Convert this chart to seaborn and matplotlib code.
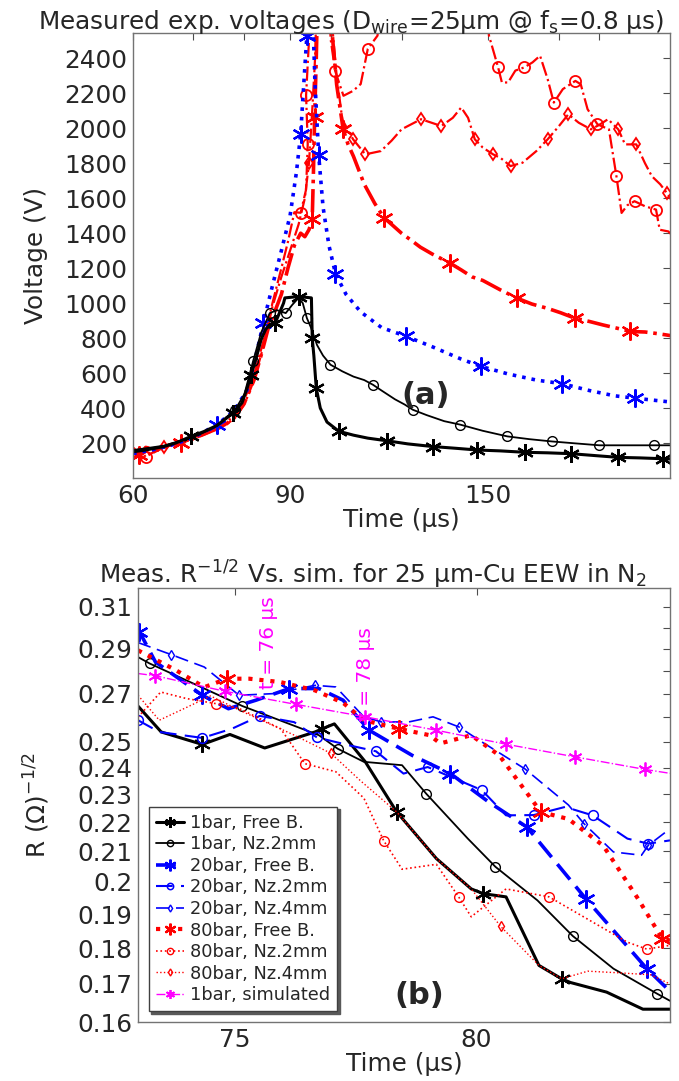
import numpy as np
import pandas as pd
import matplotlib
matplotlib.use("Agg")
import matplotlib.pyplot as plt
import seaborn as sns
from matplotlib.ticker import NullFormatter

# ---------------- data : panel (a) ----------------
a_t_1free = [60, 62, 65, 67, 69.7, 72, 74.5, 77.7, 79.5, 80.5, 81.4, 82.5, 83.5, 84.5, 85.5, 86.6, 87.5, 88.5, 88.8,
             92, 95.1, 95.3, 95.7, 96.3, 97.3, 99, 102.1, 106, 110, 115.5, 122, 130, 138, 146, 155, 165, 175, 186,
             198, 210, 222, 236, 242]
a_v_1free = [150, 160, 180, 200, 238, 265, 300, 371, 430, 510, 590, 690, 790, 850, 880, 886, 940, 1000, 1030,
             1038, 1030, 800, 700, 514, 400, 320, 267, 245, 228, 213, 195, 180, 170, 160, 155, 147, 144, 139,
             128, 118, 115, 110, 108]
a_m_1free = [4, 7, 10, 15, 19, 21, 23, 26, 29, 31, 33, 35, 37, 39, 41]

a_t_1nz2 = [60, 62, 65, 68, 71, 74, 78.1, 80, 81.8, 83.5, 85.4, 87, 89, 90.5, 92, 93, 94, 95, 96.5, 98, 99.9,
            103, 106, 109, 111.5, 114, 118, 121, 123.6, 128, 134, 139.7, 148, 157.7, 167, 177, 188, 200, 215,
            230, 242]
a_v_1nz2 = [160, 170, 185, 215, 245, 290, 390, 480, 667, 830, 943, 960, 943, 990, 1030, 1000, 914, 860, 760,
            700, 648, 610, 580, 560, 533, 500, 450, 420, 390, 360, 325, 305, 270, 238, 222, 209, 198, 187, 187,
            187, 187]
a_m_1nz2 = [6, 8, 10, 12, 16, 20, 24, 28, 31, 33, 35, 37, 39]

a_t_20free = [60, 63, 66, 70, 74.6, 78, 80.5, 82, 84, 86, 88, 90, 91.5, 92.5, 93.5, 94.0, 94.4, 95.2, 96,
              96.9, 98, 99.5, 101.2, 104, 108, 114, 121.5, 130, 140, 147.4, 158, 170, 181.8, 195, 208, 219,
              230, 242]
a_v_20free = [140, 160, 185, 230, 305, 390, 500, 650, 886, 1100, 1300, 1500, 1750, 1968, 2350, 2530, 2800,
              2800, 2250, 1847, 1550, 1330, 1168, 1050, 950, 860, 810, 750, 680, 638, 595, 560, 539, 500, 470,
              457, 445, 433]
a_m_20free = [4, 8, 13, 15, 19, 22, 26, 29, 32, 35]

a_t_80free = [60, 61, 62, 64, 66, 68, 70, 72, 74, 76, 78, 80, 82, 83.5, 85, 86.5, 88, 89.5, 91, 92.5, 93.5,
              94.5, 95.3, 95.6, 95.9, 96.3, 96.7, 99.5, 100.5, 101.5, 103.2, 104.5, 106, 109, 112, 114.7, 117,
              120, 123, 126, 130, 136, 140, 144, 148, 155, 161.8, 168, 175, 181, 187.7, 195, 202, 210, 216.5,
              225, 233, 242]
a_v_80free = [170, 130, 175, 160, 190, 200, 225, 250, 275, 300, 350, 430, 560, 700, 850, 950, 1050, 1200,
              1330, 1400, 1380, 1420, 1479, 1750, 2064, 2400, 2800, 2800, 2500, 2250, 1997, 1910, 1840, 1680,
              1570, 1488, 1450, 1400, 1360, 1320, 1280, 1229, 1190, 1150, 1130, 1075, 1028, 995, 970, 945, 914,
              895, 875, 855, 838, 835, 825, 812]
a_m_80free = [1, 5, 22, 24, 30, 35, 41, 46, 50, 54]

a_t_80nz2 = [60, 61, 62, 64, 66, 68, 70, 72, 74, 76, 78, 80, 82, 84, 86, 88, 89.5, 91, 92.5, 93.8, 94.2,
             93.8, 94.5, 95, 99, 100, 101.1, 103.3, 105.9, 108, 110, 112.8, 114, 149, 150.4, 154, 155.5, 158,
             161, 164.7, 168.3, 171.6, 175, 177.8, 182, 188, 190.6, 194, 199, 205, 209, 211.8, 215, 219, 225,
             231.5, 233.7, 239, 242]
a_v_80nz2 = [130, 170, 120, 165, 185, 210, 230, 250, 280, 310, 360, 450, 590, 780, 1000, 1200, 1350, 1520,
             1517, 1650, 1911, 2189, 2500, 2800, 2800, 2500, 2329, 2186, 2214, 2253, 2454, 2530, 2800, 2800,
             2530, 2348, 2262, 2262, 2330, 2348, 2377, 2415, 2281, 2147, 2224, 2271, 2252, 2109, 2023, 1994,
             1726, 1516, 1560, 1583, 1554, 1535, 1420, 1410, 1382]
a_m_80nz2 = [2, 18, 20, 21, 26, 30, 35, 39, 43, 45, 48, 50, 53, 55]

a_t_80nz4 = [60, 61, 63, 65, 67, 70, 73, 76, 78, 80, 82, 84, 86, 88, 90, 92, 93.5, 94.5, 95.3, 96, 96.5, 99.5,
             101.5, 103, 105.9, 109.3, 113.8, 117, 120, 126.2, 130, 133, 137, 140, 142.5, 145, 148, 152, 155,
             159, 164, 170, 175, 180, 184.6, 189.6, 195.7, 200, 204.5, 210, 213.7, 220, 225, 229, 234, 238, 242]
a_v_80nz4 = [110, 150, 140, 175, 195, 220, 260, 300, 340, 420, 560, 750, 980, 1150, 1300, 1450, 1600, 1800,
             2100, 2400, 2800, 2800, 2300, 2050, 1937, 1851, 1870, 1930, 1994, 2052, 2030, 2013, 2060, 2119,
             2060, 1937, 1890, 1851, 1830, 1784, 1803, 1870, 1937, 2010, 2080, 2032, 1994, 2020, 2052, 1994,
             1908, 1908, 1800, 1726, 1680, 1631, 1573]
a_m_80nz4 = [3, 17, 24, 25, 29, 31, 35, 37, 39, 42, 44, 46, 49, 51, 55]

a_yticks = [200, 400, 600, 800, 1000, 1200, 1400, 1600, 1800, 2000, 2200, 2400]
a_xticks = [60, 90, 150]
a_xminor = [70, 80, 100, 120, 180, 200]

# ---------------- data : panel (b) ----------------
b_t_1free = [73.0, 73.48, 74.33, 74.9, 75.62, 76.66, 76.81, 77.06, 77.7, 78.35, 79.17, 79.89, 80.14, 80.61,
             81.29, 81.76, 81.94, 82.69, 83.44, 84.0]
b_v_1free = [0.2647, 0.254, 0.249, 0.253, 0.2476, 0.254, 0.2553, 0.2573, 0.2422, 0.2236, 0.2076, 0.1978,
             0.1963, 0.1953, 0.1751, 0.1714, 0.1704, 0.1678, 0.1633, 0.1633]
b_m_1free = [2, 6, 9, 12, 15]

b_t_1nz2 = [73.0, 73.24, 75.16, 76.74, 77.13, 77.67, 78.46, 78.96, 79.82, 80.39, 81.26, 81.99, 82.83, 83.73, 84.0]
b_v_1nz2 = [0.2862, 0.2833, 0.2647, 0.2527, 0.2473, 0.2422, 0.2409, 0.2302, 0.2143, 0.2049, 0.1942, 0.1835,
            0.1742, 0.1674, 0.1655]
b_m_1nz2 = [1, 2, 4, 7, 9, 11, 13]

b_t_20free = [73.0, 73.03, 73.36, 74.33, 74.87, 75.44, 76.13, 76.74, 77.24, 77.78, 78.67, 79.46, 80.25, 81.04,
              82.26, 83.52, 84.0]
b_v_20free = [0.3003, 0.298, 0.2840, 0.2693, 0.2636, 0.2672, 0.2722, 0.2722, 0.2672, 0.2547, 0.2447, 0.2377,
              0.2272, 0.2183, 0.1947, 0.1742, 0.1680]
b_m_20free = [1, 3, 6, 9, 11, 13, 14, 15]

b_t_20nz2 = [73.0, 73.44, 74.33, 74.94, 75.52, 76.23, 76.70, 77.38, 77.92, 78.49, 78.99, 80.11, 80.61, 81.18,
             81.83, 82.4, 83.12, 83.55, 84.0]
b_v_20nz2 = [0.2588, 0.254, 0.2516, 0.2553, 0.2606, 0.2580, 0.2518, 0.2486, 0.2463, 0.2377, 0.2402, 0.2315,
             0.2224, 0.2225, 0.2254, 0.2224, 0.2143, 0.2126, 0.2137]
b_m_20nz2 = [0, 2, 4, 6, 8, 10, 11, 13, 15, 17]

b_t_20nz4 = [73.0, 73.69, 74.37, 75.09, 75.8, 76.66, 77.09, 77.67, 78.03, 78.6, 79.1, 79.64, 80.11, 81.0, 81.9,
             82.22, 82.83, 83.41, 83.55, 84.0]
b_v_20nz4 = [0.2929, 0.2873, 0.2817, 0.2693, 0.2700, 0.2736, 0.2729, 0.2602, 0.2581, 0.2581, 0.2602, 0.2560,
             0.2500, 0.2395, 0.2261, 0.2195, 0.2098, 0.2087, 0.2120, 0.2177]
b_m_20nz4 = [1, 3, 5, 8, 11, 13, 15, 18]

b_t_80free = [73.0, 73.79, 74.37, 74.84, 75.3, 75.95, 76.66, 77.24, 77.67, 78.39, 79.03, 79.25, 79.89, 80.47,
              81.33, 81.9, 82.62, 83.34, 83.84, 84.0]
b_v_80free = [0.2893, 0.2802, 0.2728, 0.2765, 0.2765, 0.2750, 0.2714, 0.2661, 0.2588, 0.2553, 0.2527, 0.2494,
              0.2527, 0.2447, 0.2236, 0.2211, 0.2119, 0.1947, 0.1827, 0.1822]
b_m_80free = [3, 9, 14, 18]

b_t_80nz2 = [73.0, 73.47, 74.0, 74.62, 75.09, 75.95, 76.45, 77.09, 77.67, 78.08, 78.46, 79.17, 79.63, 79.89,
             80.61, 81.5, 82.26, 83.12, 83.52, 84.0]
b_v_80nz2 = [0.2601, 0.2707, 0.2679, 0.2657, 0.2637, 0.2553, 0.2415, 0.2384, 0.2286, 0.2136, 0.2041, 0.2057,
             0.1953, 0.1892, 0.1978, 0.1953, 0.1888, 0.1817, 0.1797, 0.1808]
b_m_80nz2 = [3, 6, 9, 12, 15, 18]

b_t_80nz4 = [73.0, 73.44, 74.0, 74.5, 75.2, 76.2, 76.99, 77.6, 78.35, 79.17, 79.89, 80.5, 81.29, 81.76, 82.3,
             83.0, 83.6, 84.0]
b_v_80nz4 = [0.2693, 0.2588, 0.2641, 0.2690, 0.2620, 0.2530, 0.2455, 0.2350, 0.2236, 0.2076, 0.1978, 0.1863,
             0.1751, 0.1714, 0.1735, 0.1730, 0.1725, 0.1700]
b_m_80nz4 = [6, 11]

b_t_sim = [73.0, 73.36, 74.8, 76.27, 77.7, 79.17, 80.61, 82.04, 83.48, 84.0]
b_v_sim = [0.2788, 0.2778, 0.2710, 0.2654, 0.2602, 0.2547, 0.2491, 0.2441, 0.2393, 0.2378]
b_m_sim = [1, 2, 3, 4, 5, 6, 7, 8]

b_yticks = [0.16, 0.17, 0.18, 0.19, 0.20, 0.21, 0.22, 0.23, 0.24, 0.25, 0.27, 0.29, 0.31]
b_ytick_labels = ["0.16", "0.17", "0.18", "0.19", "0.2", "0.21", "0.22", "0.23", "0.24", "0.25", "0.27",
                  "0.29", "0.31"]
b_yminor = [0.26, 0.28, 0.30]
b_xticks = [75, 80]

b_labels = ["1bar, Free B.", "1bar, Nz.2mm", "20bar, Free B.", "20bar, Nz.2mm", "20bar, Nz.4mm",
            "80bar, Free B.", "80bar, Nz.2mm", "80bar, Nz.4mm", "1bar, simulated"]

# ---------------- style ----------------
sns.set_style("white")
plt.rcParams['font.family'] = ['DejaVu Sans']
plt.rcParams['mathtext.fontset'] = 'dejavusans'

FS = 17.8
AST = (6, 2, 0)
BLUE = "#0000ff"
RED = "#ff0000"
MAG = "#ff00ff"

fig = plt.figure(figsize=(6.79, 10.81), dpi=100)
axA = fig.add_axes([133 / 679, 1 - 478 / 1081, (670 - 133) / 679, (478 - 33) / 1081])
axB = fig.add_axes([138 / 679, 1 - 1022 / 1081, (670 - 138) / 679, (1022 - 588) / 1081])


def draw(ax, t, v, color, ls, lw, marker, ms, mev, mew=1.3, label=None):
    df = pd.DataFrame({"t": t, "v": v})
    sns.lineplot(data=df, x="t", y="v", ax=ax, estimator=None, sort=False, color=color,
                 linestyle=ls, linewidth=lw, marker=marker, markersize=ms, markevery=mev,
                 markerfacecolor="none", markeredgecolor=color, markeredgewidth=mew,
                 label=label, legend=False)


# panel (a)
draw(axA, a_t_80nz2, a_v_80nz2, RED, "-.", 1.6, "o", 8, a_m_80nz2)
draw(axA, a_t_80nz4, a_v_80nz4, RED, "-.", 1.6, "d", 6, a_m_80nz4)
draw(axA, a_t_80free, a_v_80free, RED, "-.", 2.6, AST, 13, a_m_80free, mew=1.6)
draw(axA, a_t_20free, a_v_20free, BLUE, ":", 2.6, AST, 13, a_m_20free, mew=1.6)
draw(axA, a_t_1nz2, a_v_1nz2, "black", "-", 1.3, "o", 7, a_m_1nz2, mew=1.0)
draw(axA, a_t_1free, a_v_1free, "black", "-", 2.2, AST, 12, a_m_1free, mew=1.6)

axA.set_xscale("log")
axA.set_xlim(60, 240)
axA.set_ylim(0, 2545)
axA.set_xticks(a_xticks)
axA.set_xticklabels([str(v) for v in a_xticks])
axA.set_xticks(a_xminor, minor=True)
axA.xaxis.set_minor_formatter(NullFormatter())
axA.set_yticks(a_yticks)
axA.set_yticklabels([str(v) for v in a_yticks])
axA.set_xlabel("Time (µs)", fontsize=FS, labelpad=0)
axA.set_ylabel("Voltage (V)", fontsize=FS, labelpad=12)
axA.set_title(r"Measured exp. voltages (D$_{\mathrm{wire}}$=25µm @ f$_{\mathrm{s}}$=0.8 µs)",
              fontsize=FS, x=0.406, pad=3)
axA.text(127.8, 474, "(a)", fontsize=22, fontweight="bold", ha="center", va="center")

# panel (b)
draw(axB, b_t_1free, b_v_1free, "black", "-", 2.2, AST, 12, b_m_1free, mew=1.5, label=b_labels[0])
draw(axB, b_t_1nz2, b_v_1nz2, "black", "-", 1.3, "o", 7, b_m_1nz2, mew=1.0, label=b_labels[1])
draw(axB, b_t_20free, b_v_20free, BLUE, (0, (5.5, 2.5)), 2.6, AST, 13, b_m_20free, mew=1.6, label=b_labels[2])
draw(axB, b_t_20nz2, b_v_20nz2, BLUE, (0, (8, 4)), 1.5, "o", 7, b_m_20nz2, mew=1.1, label=b_labels[3])
draw(axB, b_t_20nz4, b_v_20nz4, BLUE, (0, (8, 4)), 1.2, "d", 5.5, b_m_20nz4, mew=1.0, label=b_labels[4])
draw(axB, b_t_80free, b_v_80free, RED, ":", 3.0, AST, 13, b_m_80free, mew=1.6, label=b_labels[5])
draw(axB, b_t_80nz2, b_v_80nz2, RED, ":", 1.2, "o", 7, b_m_80nz2, mew=1.0, label=b_labels[6])
draw(axB, b_t_80nz4, b_v_80nz4, RED, ":", 1.0, "d", 5.5, b_m_80nz4, mew=1.0, label=b_labels[7])
draw(axB, b_t_sim, b_v_sim, MAG, "-.", 1.0, AST, 10, b_m_sim, mew=1.3, label=b_labels[8])

axB.set_yscale("log")
axB.set_xlim(73, 84)
axB.set_ylim(0.16, 0.3195)
axB.set_yticks(b_yticks)
axB.set_yticklabels(b_ytick_labels)
axB.set_yticks(b_yminor, minor=True)
axB.yaxis.set_minor_formatter(NullFormatter())
axB.set_xticks(b_xticks)
axB.set_xticklabels([str(v) for v in b_xticks])
axB.set_xlabel("Time (µs)", fontsize=FS, labelpad=0)
axB.set_ylabel(r"R ($\Omega$)$^{\mathrm{-1/2}}$", fontsize=FS, labelpad=18)
axB.set_title(r"Meas. R$^{\mathrm{-1/2}}$ Vs. sim. for 25 µm-Cu EEW in N$_{\mathrm{2}}$",
              fontsize=FS, x=0.442, pad=3)
axB.text(75.7, 0.272, "t = 76 µs", color=MAG, fontsize=14.5, rotation=90, ha="center", va="bottom")
axB.text(77.7, 0.259, "t = 78 µs", color=MAG, fontsize=14.5, rotation=90, ha="center", va="bottom")
axB.text(78.82, 0.167, "(b)", fontsize=22, fontweight="bold", ha="center", va="center")

handles = [l for l in axB.get_lines() if l.get_label() in b_labels]
leg = axB.legend(handles=handles, labels=b_labels, loc="lower left", fontsize=12.8, frameon=True,
                 fancybox=False, shadow={"color": "0.35", "alpha": 1.0}, edgecolor="0.25",
                 borderaxespad=0.6, handlelength=1.6, handletextpad=0.3, labelspacing=0.2,
                 borderpad=0.4, framealpha=1, markerscale=0.65)
leg.get_frame().set_linewidth(1.0)

for ax in (axA, axB):
    ax.tick_params(axis="both", which="both", direction="in", top=True, right=True, length=5,
                   width=0.8, color="0.3", labelsize=FS, pad=4)
    for s in ax.spines.values():
        s.set_color("0.45")
        s.set_linewidth(1.0)

fig.savefig("out.png", dpi=100)
